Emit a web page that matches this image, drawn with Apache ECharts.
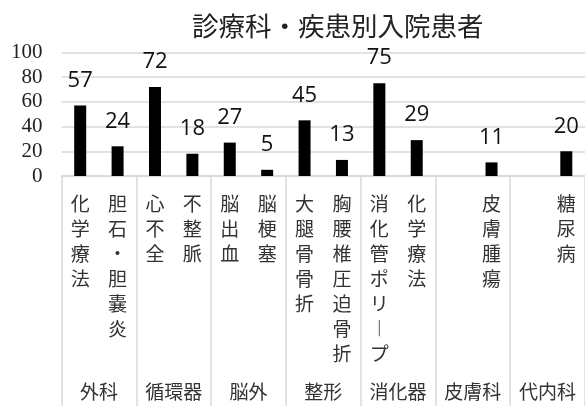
<!DOCTYPE html>
<html>
<head>
<meta charset="utf-8">
<script src="https://cdn.jsdelivr.net/npm/echarts@6/dist/echarts.min.js"></script>
<style>
  html, body { margin: 0; padding: 0; background: #fff; }
  #chart { width: 585px; height: 406px; }
</style>
</head>
<body>
<div id="chart"></div>
<script>
// Inpatients by department and disease
const titleText = '診療科・疾患別入院患者';
const diseases = ['化学療法', '胆石・胆嚢炎', '心不全', '不整脈', '脳出血', '脳梗塞',
  '大腿骨骨折', '胸腰椎圧迫骨折', '消化管ポリープ', '化学療法', '', '皮膚腫瘍', '', '糖尿病'];
const patients = [57, 24, 72, 18, 27, 5, 45, 13, 75, 29, null, 11, null, 20];
const departments = ['外科', '循環器', '脳外', '整形', '消化器', '皮膚科', '代内科'];
const yTicks = [0, 20, 40, 60, 80, 100];

const gridColor = '#d9d9d9';

// stack characters one per line; long vowel mark uses its vertical form
function verticalText(s) {
  return s.split('').map(c => (c === 'ー' ? '︱' : c)).join('\n');
}

const chart = echarts.init(document.getElementById('chart'));
chart.setOption({
  animation: false,
  title: {
    text: titleText,
    left: 187,
    top: 8,
    textStyle: { fontFamily: 'Noto Sans CJK JP', fontSize: 26.5, fontWeight: 'normal', color: '#222' }
  },
  grid: { left: 61.5, top: 52.3, width: 527, bottom: 230, containLabel: false },
  xAxis: [
    {
      type: 'category',
      data: diseases,
      position: 'bottom',
      axisLine: { show: true, lineStyle: { color: gridColor, width: 1.5 } },
      axisTick: { show: false },
      axisLabel: {
        interval: 0,
        margin: 15,
        fontFamily: 'Noto Sans CJK JP',
        fontSize: 19,
        lineHeight: 25,
        color: '#333',
        verticalAlign: 'top',
        formatter: verticalText
      }
    },
    {
      type: 'category',
      data: departments,
      position: 'bottom',
      axisLine: { show: false },
      axisTick: { show: true, length: 232, lineStyle: { color: gridColor, width: 1.5 } },
      axisLabel: {
        interval: 0,
        margin: 206,
        fontFamily: 'Noto Sans CJK JP',
        fontSize: 19,
        color: '#333',
        verticalAlign: 'top'
      }
    }
  ],
  yAxis: {
    type: 'value',
    min: yTicks[0],
    max: yTicks[yTicks.length - 1],
    interval: yTicks[1] - yTicks[0],
    axisLine: { show: false },
    axisTick: { show: false },
    axisLabel: {
      margin: 19,
      fontFamily: 'Liberation Serif',
      fontSize: 21,
      color: '#222'
    },
    splitLine: { lineStyle: { color: gridColor, width: 1.5 } }
  },
  series: [{
    type: 'bar',
    xAxisIndex: 0,
    data: patients,
    barWidth: 12,
    itemStyle: { color: '#000' },
    label: {
      show: true,
      position: 'top',
      distance: 14,
      fontFamily: 'Open Sans',
      fontSize: 22,
      color: '#111'
    }
  }]
});
</script>
</body>
</html>
